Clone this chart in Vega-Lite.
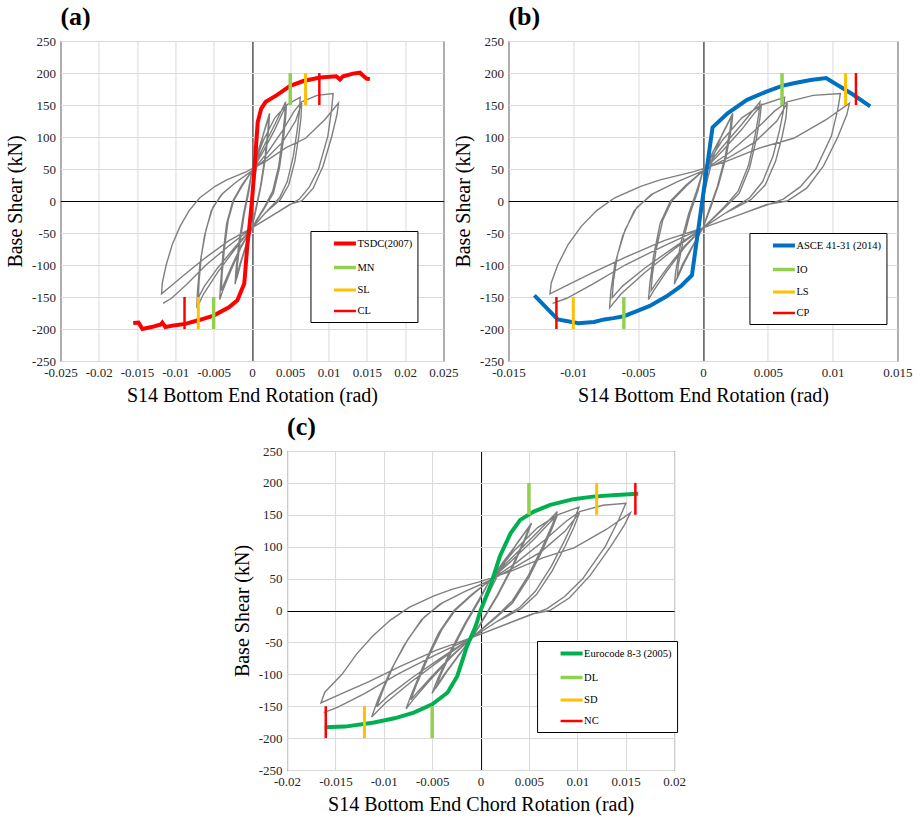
{
"$schema": "https://vega.github.io/schema/vega-lite/v6.json",
"background": "white",
"padding": {"left": 5, "top": 3, "right": 5, "bottom": 5},
"spacing": 7,
"center": true,
"resolve": {"scale": {"x": "independent", "y": "independent", "color": "independent", "strokeWidth": "independent"}, "legend": {"color": "independent", "strokeWidth": "independent"}, "axis": {"x": "independent", "y": "independent"}},
"config": {
  "view": {"stroke": "#000", "strokeWidth": 1},
  "axis": {"grid": true, "gridWidth": 1, "domain": false, "ticks": false, "labelColor": "#262626", "labelPadding": 5, "labelFlush": false, "labelOverlap": false, "titleFontWeight": "normal", "titleColor": "#000", "titlePadding": 6},
  "title": {"font": "Liberation Serif", "fontSize": 26, "fontWeight": "bold", "anchor": "start", "frame": "group", "offset": 5, "color": "#000"},
  "legend": {"orient": "none", "strokeColor": "#000", "fillColor": "#fff", "padding": 5, "labelFont": "Liberation Serif", "labelFontSize": 10.5, "labelColor": "#000", "symbolType": "M-2,0H2", "symbolSize": 121, "symbolOffset": 22, "labelOffset": 5, "rowPadding": 8}
},
"datasets": {
  "loops": [
    {"i":1,"r":0,"v":0,"c":0},{"i":2,"r":0.0003,"v":30,"c":0.00093},{"i":3,"r":0.0008,"v":70,"c":0.00228},{"i":4,"r":0.0015,"v":105,"c":0.00375},{"i":5,"r":0.0023,"v":137,"c":0.00527},
    {"i":6,"r":0.0022,"v":115,"c":0.00472},{"i":7,"r":0.0018,"v":70,"c":0.00338},{"i":8,"r":0.0012,"v":25,"c":0.00182},{"i":9,"r":0.0006,"v":-10,"c":0.00046},{"i":10,"r":0,"v":-42,"c":-0.00084},{"i":11,"r":-0.0008,"v":-70,"c":-0.00228},{"i":12,"r":-0.0016,"v":-100,"c":-0.00376},{"i":13,"r":-0.0022,"v":-130,"c":-0.00502},
    {"i":14,"r":-0.0021,"v":-110,"c":-0.00451},{"i":15,"r":-0.0017,"v":-65,"c":-0.00317},{"i":16,"r":-0.0011,"v":-20,"c":-0.00161},{"i":17,"r":-0.0005,"v":15,"c":-0.00025},{"i":18,"r":0,"v":47,"c":0.00094},{"i":19,"r":0.0008,"v":78,"c":0.00244},{"i":20,"r":0.0016,"v":108,"c":0.00392},{"i":21,"r":0.0022,"v":132,"c":0.00506},
    {"i":22,"r":0.0021,"v":112,"c":0.00455},{"i":23,"r":0.0017,"v":68,"c":0.00323},{"i":24,"r":0.0011,"v":22,"c":0.00165},{"i":25,"r":0.0005,"v":-12,"c":0.00031},{"i":26,"r":0,"v":-42,"c":-0.00084},{"i":27,"r":-0.0007,"v":-68,"c":-0.00213},{"i":28,"r":-0.0014,"v":-95,"c":-0.00344},{"i":29,"r":-0.002,"v":-122,"c":-0.00464},
    {"i":30,"r":-0.0019,"v":-100,"c":-0.00409},{"i":31,"r":-0.0015,"v":-60,"c":-0.00285},{"i":32,"r":-0.001,"v":-20,"c":-0.0015},{"i":33,"r":-0.0004,"v":15,"c":-0.00014},{"i":34,"r":0,"v":47,"c":0.00094},{"i":35,"r":0.0014,"v":82,"c":0.00318},{"i":36,"r":0.003,"v":120,"c":0.0057},{"i":37,"r":0.0044,"v":155,"c":0.00794},
    {"i":38,"r":0.0043,"v":135,"c":0.00743},{"i":39,"r":0.004,"v":100,"c":0.0064},{"i":40,"r":0.0035,"v":55,"c":0.00495},{"i":41,"r":0.0027,"v":15,"c":0.00327},{"i":42,"r":0.0016,"v":-10,"c":0.00156},{"i":43,"r":0,"v":-42,"c":-0.00084},{"i":44,"r":-0.0014,"v":-72,"c":-0.00298},{"i":45,"r":-0.0028,"v":-110,"c":-0.00528},{"i":46,"r":-0.0038,"v":-140,"c":-0.00698},{"i":47,"r":-0.0042,"v":-154,"c":-0.0077},
    {"i":48,"r":-0.0041,"v":-130,"c":-0.00711},{"i":49,"r":-0.0038,"v":-85,"c":-0.00588},{"i":50,"r":-0.0033,"v":-35,"c":-0.00433},{"i":51,"r":-0.0025,"v":0,"c":-0.00275},{"i":52,"r":-0.0013,"v":25,"c":-0.00093},{"i":53,"r":0,"v":47,"c":0.00094},{"i":54,"r":0.0015,"v":78,"c":0.00321},{"i":55,"r":0.003,"v":112,"c":0.00554},{"i":56,"r":0.004,"v":138,"c":0.00716},{"i":57,"r":0.0045,"v":150,"c":0.00795},
    {"i":58,"r":0.0044,"v":130,"c":0.00744},{"i":59,"r":0.0041,"v":95,"c":0.00641},{"i":60,"r":0.0036,"v":52,"c":0.005},{"i":61,"r":0.0028,"v":12,"c":0.00332},{"i":62,"r":0.0016,"v":-12,"c":0.00152},{"i":63,"r":0,"v":-42,"c":-0.00084},{"i":64,"r":-0.0014,"v":-70,"c":-0.00294},{"i":65,"r":-0.0027,"v":-103,"c":-0.00503},{"i":66,"r":-0.0036,"v":-128,"c":-0.00652},{"i":67,"r":-0.004,"v":-140,"c":-0.0072},
    {"i":68,"r":-0.0039,"v":-115,"c":-0.00659},{"i":69,"r":-0.0036,"v":-75,"c":-0.00546},{"i":70,"r":-0.0031,"v":-30,"c":-0.00401},{"i":71,"r":-0.0024,"v":0,"c":-0.00264},{"i":72,"r":-0.0012,"v":25,"c":-0.00082},{"i":73,"r":0,"v":47,"c":0.00094},{"i":74,"r":0.0015,"v":95,"c":0.00355},{"i":75,"r":0.003,"v":130,"c":0.0059},{"i":76,"r":0.0045,"v":150,"c":0.00795},{"i":77,"r":0.0063,"v":162,"c":0.01017},
    {"i":78,"r":0.0062,"v":140,"c":0.00962},{"i":79,"r":0.0059,"v":110,"c":0.00869},{"i":80,"r":0.0054,"v":70,"c":0.00734},{"i":81,"r":0.0046,"v":30,"c":0.00566},{"i":82,"r":0.0036,"v":5,"c":0.00406},{"i":83,"r":0.0018,"v":-18,"c":0.00162},{"i":84,"r":0,"v":-42,"c":-0.00084},{"i":85,"r":-0.0022,"v":-75,"c":-0.00392},{"i":86,"r":-0.0045,"v":-112,"c":-0.00719},{"i":87,"r":-0.0063,"v":-145,"c":-0.00983},{"i":88,"r":-0.0072,"v":-167,"c":-0.01126},
    {"i":89,"r":-0.0071,"v":-140,"c":-0.01061},{"i":90,"r":-0.0068,"v":-100,"c":-0.00948},{"i":91,"r":-0.0062,"v":-55,"c":-0.00792},{"i":92,"r":-0.0053,"v":-15,"c":-0.00613},{"i":93,"r":-0.004,"v":10,"c":-0.0042},{"i":94,"r":-0.002,"v":30,"c":-0.0016},{"i":95,"r":0,"v":47,"c":0.00094},{"i":96,"r":0.002,"v":68,"c":0.00356},{"i":97,"r":0.004,"v":92,"c":0.00624},{"i":98,"r":0.0057,"v":125,"c":0.00877},{"i":99,"r":0.0065,"v":153,"c":0.01021},
    {"i":100,"r":0.0064,"v":130,"c":0.00964},{"i":101,"r":0.0061,"v":100,"c":0.00871},{"i":102,"r":0.0056,"v":62,"c":0.0074},{"i":103,"r":0.0048,"v":25,"c":0.00578},{"i":104,"r":0.0037,"v":2,"c":0.00411},{"i":105,"r":0.0018,"v":-18,"c":0.00162},{"i":106,"r":0,"v":-42,"c":-0.00084},{"i":107,"r":-0.0022,"v":-72,"c":-0.00386},{"i":108,"r":-0.0045,"v":-105,"c":-0.00705},{"i":109,"r":-0.0062,"v":-133,"c":-0.00948},{"i":110,"r":-0.007,"v":-151,"c":-0.01072},
    {"i":111,"r":-0.0069,"v":-125,"c":-0.01009},{"i":112,"r":-0.0066,"v":-85,"c":-0.00896},{"i":113,"r":-0.006,"v":-45,"c":-0.0075},{"i":114,"r":-0.0051,"v":-10,"c":-0.00581},{"i":115,"r":-0.0038,"v":12,"c":-0.00394},{"i":116,"r":-0.002,"v":30,"c":-0.0016},{"i":117,"r":0,"v":47,"c":0.00094},{"i":118,"r":0.002,"v":75,"c":0.0037},{"i":119,"r":0.004,"v":110,"c":0.0066},{"i":120,"r":0.0055,"v":140,"c":0.00885},{"i":121,"r":0.0065,"v":155,"c":0.01025},{"i":122,"r":0.0085,"v":165,"c":0.01265},{"i":123,"r":0.0106,"v":168,"c":0.01502},
    {"i":124,"r":0.0104,"v":143,"c":0.0143},{"i":125,"r":0.0099,"v":101,"c":0.01291},{"i":126,"r":0.0087,"v":50,"c":0.01057},{"i":127,"r":0.0075,"v":22,"c":0.00869},{"i":128,"r":0.0062,"v":3,"c":0.00688},{"i":129,"r":0.0037,"v":-15,"c":0.00377},{"i":130,"r":0,"v":-42,"c":-0.00084},{"i":131,"r":-0.003,"v":-62,"c":-0.00454},{"i":132,"r":-0.006,"v":-88,"c":-0.00836},{"i":133,"r":-0.0085,"v":-112,"c":-0.01159},{"i":134,"r":-0.0103,"v":-130,"c":-0.0143},{"i":135,"r":-0.0118,"v":-145,"c":-0.0165},
    {"i":136,"r":-0.0117,"v":-128,"c":-0.0161},{"i":137,"r":-0.0112,"v":-100,"c":-0.01432},{"i":138,"r":-0.0104,"v":-68,"c":-0.0128},{"i":139,"r":-0.0094,"v":-40,"c":-0.01114},{"i":140,"r":-0.0082,"v":-15,"c":-0.00932},{"i":141,"r":-0.0068,"v":5,"c":-0.00738},{"i":142,"r":-0.0048,"v":23,"c":-0.00482},{"i":143,"r":-0.0033,"v":33,"c":-0.00297},{"i":144,"r":-0.0007,"v":46,"c":0.00015},{"i":145,"r":0.0018,"v":62,"c":0.00322},{"i":146,"r":0.0044,"v":83,"c":0.0065},{"i":147,"r":0.007,"v":98,"c":0.00966},{"i":148,"r":0.0095,"v":127,"c":0.01299},{"i":149,"r":0.0113,"v":153,"c":0.01549},
    {"i":150,"r":0.0111,"v":135,"c":0.01491},{"i":151,"r":0.0104,"v":100,"c":0.01344},{"i":152,"r":0.0093,"v":55,"c":0.01133},{"i":153,"r":0.008,"v":20,"c":0.0092},{"i":154,"r":0.0065,"v":0,"c":0.00715},{"i":155,"r":0.005,"v":-5,"c":0.0054},{"i":156,"r":0.003,"v":-20,"c":0.0029},{"i":157,"r":0,"v":-42,"c":-0.00084},{"i":158,"r":-0.003,"v":-70,"c":-0.0047},{"i":159,"r":-0.006,"v":-100,"c":-0.0086},{"i":160,"r":-0.0085,"v":-130,"c":-0.01195},{"i":161,"r":-0.0105,"v":-152,"c":-0.0148},{"i":162,"r":-0.0116,"v":-160,"c":-0.0162}
  ],
  "env_a": [
    {"s":"TSDC(2007)","x":-0.0155,"v":-190.5},{"s":"TSDC(2007)","x":-0.0148,"v":-190},{"s":"TSDC(2007)","x":-0.0143,"v":-200},{"s":"TSDC(2007)","x":-0.0131,"v":-197},{"s":"TSDC(2007)","x":-0.0119,"v":-193},{"s":"TSDC(2007)","x":-0.0117,"v":-190},{"s":"TSDC(2007)","x":-0.0113,"v":-197},{"s":"TSDC(2007)","x":-0.01,"v":-194},{"s":"TSDC(2007)","x":-0.0087,"v":-192},{"s":"TSDC(2007)","x":-0.0069,"v":-186},{"s":"TSDC(2007)","x":-0.005,"v":-179},{"s":"TSDC(2007)","x":-0.003,"v":-166},{"s":"TSDC(2007)","x":-0.0019,"v":-155},{"s":"TSDC(2007)","x":-0.001,"v":-129},{"s":"TSDC(2007)","x":-0.0006,"v":-69},{"s":"TSDC(2007)","x":-0.00035,"v":-43},{"s":"TSDC(2007)","x":0,"v":0},{"s":"TSDC(2007)","x":0.0003,"v":45},{"s":"TSDC(2007)","x":0.00075,"v":123},{"s":"TSDC(2007)","x":0.0012,"v":144},{"s":"TSDC(2007)","x":0.0018,"v":155},{"s":"TSDC(2007)","x":0.0032,"v":165},{"s":"TSDC(2007)","x":0.005,"v":180},{"s":"TSDC(2007)","x":0.0067,"v":187.5},{"s":"TSDC(2007)","x":0.0089,"v":193},{"s":"TSDC(2007)","x":0.011,"v":195},{"s":"TSDC(2007)","x":0.0115,"v":190},{"s":"TSDC(2007)","x":0.0119,"v":195},{"s":"TSDC(2007)","x":0.0132,"v":199},{"s":"TSDC(2007)","x":0.0141,"v":200.5},{"s":"TSDC(2007)","x":0.0146,"v":195},{"s":"TSDC(2007)","x":0.015,"v":191},{"s":"TSDC(2007)","x":0.0154,"v":190.5}
  ],
  "env_b": [
    {"s":"ASCE 41-31 (2014)","x":-0.013,"v":-147.5},{"s":"ASCE 41-31 (2014)","x":-0.0112,"v":-185},{"s":"ASCE 41-31 (2014)","x":-0.0096,"v":-191},{"s":"ASCE 41-31 (2014)","x":-0.0084,"v":-189},{"s":"ASCE 41-31 (2014)","x":-0.0076,"v":-185},{"s":"ASCE 41-31 (2014)","x":-0.0069,"v":-183},{"s":"ASCE 41-31 (2014)","x":-0.0061,"v":-180},{"s":"ASCE 41-31 (2014)","x":-0.0051,"v":-172},{"s":"ASCE 41-31 (2014)","x":-0.0041,"v":-164},{"s":"ASCE 41-31 (2014)","x":-0.0028,"v":-149},{"s":"ASCE 41-31 (2014)","x":-0.0017,"v":-133},{"s":"ASCE 41-31 (2014)","x":-0.00085,"v":-116},{"s":"ASCE 41-31 (2014)","x":0.00074,"v":115},{"s":"ASCE 41-31 (2014)","x":0.0019,"v":137},{"s":"ASCE 41-31 (2014)","x":0.0034,"v":158},{"s":"ASCE 41-31 (2014)","x":0.0049,"v":171},{"s":"ASCE 41-31 (2014)","x":0.0061,"v":180},{"s":"ASCE 41-31 (2014)","x":0.007,"v":184},{"s":"ASCE 41-31 (2014)","x":0.0083,"v":189},{"s":"ASCE 41-31 (2014)","x":0.0095,"v":192},{"s":"ASCE 41-31 (2014)","x":0.0116,"v":166},{"s":"ASCE 41-31 (2014)","x":0.0129,"v":148}
  ],
  "env_c": [
    {"s":"Eurocode 8-3 (2005)","x":-0.0161,"v":-183},{"s":"Eurocode 8-3 (2005)","x":-0.014,"v":-182},{"s":"Eurocode 8-3 (2005)","x":-0.011,"v":-175.5},{"s":"Eurocode 8-3 (2005)","x":-0.0089,"v":-169},{"s":"Eurocode 8-3 (2005)","x":-0.0069,"v":-160},{"s":"Eurocode 8-3 (2005)","x":-0.005,"v":-147},{"s":"Eurocode 8-3 (2005)","x":-0.0034,"v":-128.5},{"s":"Eurocode 8-3 (2005)","x":-0.0024,"v":-102.5},{"s":"Eurocode 8-3 (2005)","x":-0.0014,"v":-56},{"s":"Eurocode 8-3 (2005)","x":-0.0005,"v":-24.5},{"s":"Eurocode 8-3 (2005)","x":0,"v":0},{"s":"Eurocode 8-3 (2005)","x":0.001,"v":38},{"s":"Eurocode 8-3 (2005)","x":0.002,"v":85},{"s":"Eurocode 8-3 (2005)","x":0.0031,"v":121},{"s":"Eurocode 8-3 (2005)","x":0.0041,"v":142},{"s":"Eurocode 8-3 (2005)","x":0.0055,"v":155},{"s":"Eurocode 8-3 (2005)","x":0.0072,"v":165.5},{"s":"Eurocode 8-3 (2005)","x":0.0096,"v":174.5},{"s":"Eurocode 8-3 (2005)","x":0.0116,"v":178.5},{"s":"Eurocode 8-3 (2005)","x":0.014,"v":181},{"s":"Eurocode 8-3 (2005)","x":0.0163,"v":183}
  ],
  "lim": [
    {"p":"a","s":"MN","x":0.005,"v":150,"v2":200},{"p":"a","s":"MN","x":-0.005,"v":-150,"v2":-200},
    {"p":"a","s":"SL","x":0.007,"v":150,"v2":200},{"p":"a","s":"SL","x":-0.007,"v":-150,"v2":-200},
    {"p":"a","s":"CL","x":0.0088,"v":150,"v2":200},{"p":"a","s":"CL","x":-0.0088,"v":-150,"v2":-200},
    {"p":"b","s":"IO","x":0.0061,"v":150,"v2":200},{"p":"b","s":"IO","x":-0.0061,"v":-150,"v2":-200},
    {"p":"b","s":"LS","x":0.011,"v":150,"v2":200},{"p":"b","s":"LS","x":-0.01,"v":-150,"v2":-200},
    {"p":"b","s":"CP","x":0.0118,"v":150,"v2":200},{"p":"b","s":"CP","x":-0.0113,"v":-150,"v2":-200},
    {"p":"c","s":"DL","x":0.005,"v":150,"v2":200},{"p":"c","s":"DL","x":-0.005,"v":-150,"v2":-200},
    {"p":"c","s":"SD","x":0.012,"v":150,"v2":200},{"p":"c","s":"SD","x":-0.012,"v":-150,"v2":-200},
    {"p":"c","s":"NC","x":0.016,"v":150,"v2":200},{"p":"c","s":"NC","x":-0.016,"v":-150,"v2":-200}
  ]
},
"vconcat": [
  {
    "spacing": -7,
    "resolve": {"scale": {"x": "independent", "y": "independent", "color": "independent", "strokeWidth": "independent"}, "legend": {"color": "independent", "strokeWidth": "independent"}, "axis": {"x": "independent", "y": "independent"}},
    "hconcat": [
      {
        "title": {"text": "(a)"},
        "width": 383, "height": 320,
        "encoding": {
          "x": {"field": "x", "type": "quantitative", "scale": {"domain": [-0.025, 0.025], "nice": false, "zero": false},
                "axis": {"title": "S14 Bottom End Rotation (rad)", "values": [-0.025,-0.02,-0.015,-0.01,-0.005,0,0.005,0.01,0.015,0.02,0.025], "format": "~f", "labelExpr": "replace(datum.label, '\u2212', '-')", "labelOverlap": false, "labelFlush": false, "grid": true, "gridColor": {"condition": {"test": "datum.value == 0", "value": "#000000"}, "value": "#D9D9D9"}, "labelFont": "Liberation Serif", "titleFont": "Liberation Serif", "labelFontSize": 13, "titleFontSize": 20}},
          "y": {"field": "v", "type": "quantitative", "scale": {"domain": [-250, 250], "nice": false},
                "axis": {"title": "Base Shear (kN)", "values": [-250,-200,-150,-100,-50,0,50,100,150,200,250], "format": "~f", "labelExpr": "replace(datum.label, '\u2212', '-')", "labelOverlap": false, "labelFlush": false, "grid": true, "gridColor": {"condition": {"test": "datum.value == 0", "value": "#000000"}, "value": "#D9D9D9"}, "labelFont": "Liberation Serif", "titleFont": "Liberation Serif", "labelFontSize": 13, "titleFontSize": 20}}
        },
        "layer": [
          {"data": {"name": "loops"}, "mark": {"type": "line", "color": "#7F7F7F", "strokeWidth": 1.4},
           "encoding": {"x": {"field": "r", "type": "quantitative"}, "order": {"field": "i", "type": "quantitative"}}},
          {"data": {"name": "env_a"}, "mark": {"type": "line"},
           "encoding": {
             "color": {"field": "s", "type": "nominal", "scale": {"domain": ["TSDC(2007)","MN","SL","CL"], "range": ["#FF0000","#92D050","#FFC000","#FF0000"]}, "legend": {"title": null, "legendX": 250, "legendY": 190}},
             "strokeWidth": {"field": "s", "type": "nominal", "scale": {"domain": ["TSDC(2007)","MN","SL","CL"], "range": [4, 2.5, 2.5, 2.5]}, "legend": {"title": null, "legendX": 250, "legendY": 190}}}},
          {"data": {"name": "lim"}, "transform": [{"filter": "datum.p == 'a'"}], "mark": {"type": "rule"},
           "encoding": {
             "y2": {"field": "v2"},
             "color": {"field": "s", "type": "nominal", "scale": {"domain": ["TSDC(2007)","MN","SL","CL"], "range": ["#FF0000","#92D050","#FFC000","#FF0000"]}},
             "strokeWidth": {"field": "s", "type": "nominal", "scale": {"domain": ["TSDC(2007)","MN","SL","CL"], "range": [4, 2.5, 2.5, 2.5]}}}}
        ]
      },
      {
        "title": {"text": "(b)"},
        "width": 389, "height": 320,
        "encoding": {
          "x": {"field": "x", "type": "quantitative", "scale": {"domain": [-0.015, 0.015], "nice": false, "zero": false},
                "axis": {"title": "S14 Bottom End Rotation (rad)", "values": [-0.015,-0.01,-0.005,0,0.005,0.01,0.015], "format": "~f", "labelExpr": "replace(datum.label, '\u2212', '-')", "labelOverlap": false, "labelFlush": false, "grid": true, "gridColor": {"condition": {"test": "datum.value == 0", "value": "#000000"}, "value": "#D9D9D9"}, "labelFont": "Liberation Serif", "titleFont": "Liberation Serif", "labelFontSize": 13, "titleFontSize": 20}},
          "y": {"field": "v", "type": "quantitative", "scale": {"domain": [-250, 250], "nice": false},
                "axis": {"title": "Base Shear (kN)", "values": [-250,-200,-150,-100,-50,0,50,100,150,200,250], "format": "~f", "labelExpr": "replace(datum.label, '\u2212', '-')", "labelOverlap": false, "labelFlush": false, "grid": true, "gridColor": {"condition": {"test": "datum.value == 0", "value": "#000000"}, "value": "#D9D9D9"}, "labelFont": "Liberation Serif", "titleFont": "Liberation Serif", "labelFontSize": 13, "titleFontSize": 20}}
        },
        "layer": [
          {"data": {"name": "loops"}, "mark": {"type": "line", "color": "#7F7F7F", "strokeWidth": 1.4},
           "encoding": {"x": {"field": "r", "type": "quantitative"}, "order": {"field": "i", "type": "quantitative"}}},
          {"data": {"name": "env_b"}, "mark": {"type": "line"},
           "encoding": {
             "color": {"field": "s", "type": "nominal", "scale": {"domain": ["ASCE 41-31 (2014)","IO","LS","CP"], "range": ["#0070C0","#92D050","#FFC000","#FF0000"]}, "legend": {"title": null, "legendX": 241, "legendY": 192}},
             "strokeWidth": {"field": "s", "type": "nominal", "scale": {"domain": ["ASCE 41-31 (2014)","IO","LS","CP"], "range": [4, 2.5, 2.5, 2.5]}, "legend": {"title": null, "legendX": 241, "legendY": 192}}}},
          {"data": {"name": "lim"}, "transform": [{"filter": "datum.p == 'b'"}], "mark": {"type": "rule"},
           "encoding": {
             "y2": {"field": "v2"},
             "color": {"field": "s", "type": "nominal", "scale": {"domain": ["ASCE 41-31 (2014)","IO","LS","CP"], "range": ["#0070C0","#92D050","#FFC000","#FF0000"]}},
             "strokeWidth": {"field": "s", "type": "nominal", "scale": {"domain": ["ASCE 41-31 (2014)","IO","LS","CP"], "range": [4, 2.5, 2.5, 2.5]}}}}
        ]
      }
    ]
  },
  {
    "title": {"text": "(c)"},
    "width": 387, "height": 319,
    "encoding": {
      "x": {"field": "x", "type": "quantitative", "scale": {"domain": [-0.02, 0.02], "nice": false, "zero": false},
            "axis": {"title": "S14 Bottom End Chord Rotation (rad)", "values": [-0.02,-0.015,-0.01,-0.005,0,0.005,0.01,0.015,0.02], "format": "~f", "labelExpr": "replace(datum.label, '\u2212', '-')", "labelOverlap": false, "labelFlush": false, "grid": true, "gridColor": {"condition": {"test": "datum.value == 0", "value": "#000000"}, "value": "#D9D9D9"}, "labelFont": "Liberation Serif", "titleFont": "Liberation Serif", "labelFontSize": 13, "titleFontSize": 20}},
      "y": {"field": "v", "type": "quantitative", "scale": {"domain": [-250, 250], "nice": false},
            "axis": {"title": "Base Shear (kN)", "values": [-250,-200,-150,-100,-50,0,50,100,150,200,250], "format": "~f", "labelExpr": "replace(datum.label, '\u2212', '-')", "labelOverlap": false, "labelFlush": false, "grid": true, "gridColor": {"condition": {"test": "datum.value == 0", "value": "#000000"}, "value": "#D9D9D9"}, "labelFont": "Liberation Serif", "titleFont": "Liberation Serif", "labelFontSize": 13, "titleFontSize": 20}}
    },
    "layer": [
      {"data": {"name": "loops"}, "mark": {"type": "line", "color": "#7F7F7F", "strokeWidth": 1.4},
       "encoding": {"x": {"field": "c", "type": "quantitative"}, "order": {"field": "i", "type": "quantitative"}}},
      {"data": {"name": "env_c"}, "mark": {"type": "line"},
       "encoding": {
         "color": {"field": "s", "type": "nominal", "scale": {"domain": ["Eurocode 8-3 (2005)","DL","SD","NC"], "range": ["#00B050","#92D050","#FFC000","#FF0000"]}, "legend": {"title": null, "legendX": 250, "legendY": 190}},
         "strokeWidth": {"field": "s", "type": "nominal", "scale": {"domain": ["Eurocode 8-3 (2005)","DL","SD","NC"], "range": [4, 2.5, 2.5, 2.5]}, "legend": {"title": null, "legendX": 250, "legendY": 190}}}},
      {"data": {"name": "lim"}, "transform": [{"filter": "datum.p == 'c'"}], "mark": {"type": "rule"},
       "encoding": {
         "y2": {"field": "v2"},
         "color": {"field": "s", "type": "nominal", "scale": {"domain": ["Eurocode 8-3 (2005)","DL","SD","NC"], "range": ["#00B050","#92D050","#FFC000","#FF0000"]}},
         "strokeWidth": {"field": "s", "type": "nominal", "scale": {"domain": ["Eurocode 8-3 (2005)","DL","SD","NC"], "range": [4, 2.5, 2.5, 2.5]}}}}
    ]
  }
]
}
